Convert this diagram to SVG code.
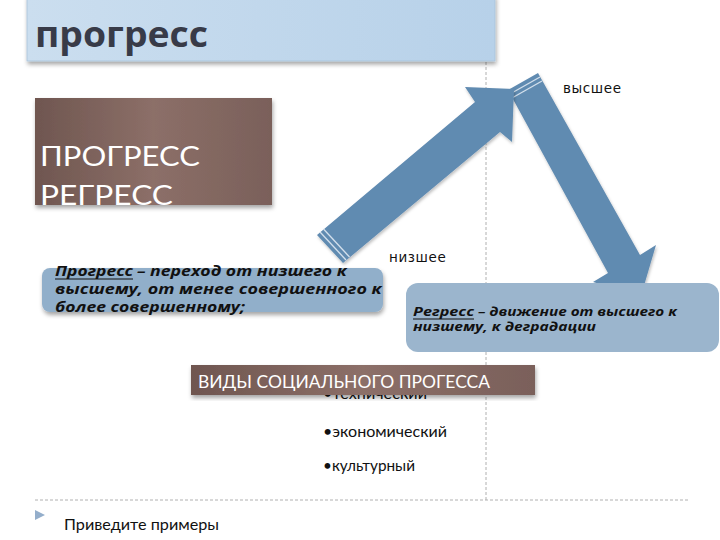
<svg xmlns="http://www.w3.org/2000/svg" width="720" height="540" viewBox="0 0 720 540">
<defs>
<style>
.gs{font-family:Lato,"Open Sans","Liberation Sans",sans-serif}
.bi{font-family:"Open Sans","Liberation Sans",sans-serif;font-weight:bold;font-style:italic;fill:#111}
.dv{font-family:"DejaVu Sans","Liberation Sans",sans-serif;font-size:13.5px;fill:#111;letter-spacing:0.6px}
.dash{stroke:#b0b0b0;stroke-width:1;stroke-dasharray:3,2;fill:none}
.arrow{fill:#618bb1}
.stripe{stroke:#d3e0ec;stroke-width:1.3}
.ul{stroke:#111;stroke-width:1.2}
</style>
<linearGradient id="gTitle" x1="0" y1="0" x2="1" y2="0">
<stop offset="0" stop-color="#cbdeef"/><stop offset="1" stop-color="#b7d1e9"/>
</linearGradient>
<linearGradient id="gBrown" x1="0" y1="0" x2="1" y2="0">
<stop offset="0" stop-color="#6f5650"/><stop offset="0.5" stop-color="#8c6f68"/><stop offset="1" stop-color="#7a605a"/>
</linearGradient>
<filter id="sh" x="-10%" y="-10%" width="120%" height="130%">
<feDropShadow dx="1" dy="3" stdDeviation="2" flood-color="#000" flood-opacity="0.35"/>
</filter>
<filter id="sh2" x="-10%" y="-10%" width="120%" height="130%">
<feDropShadow dx="1" dy="2" stdDeviation="1.5" flood-color="#000" flood-opacity="0.25"/>
</filter>
</defs>
<rect width="720" height="540" fill="#fff"/>

<g id="guides">
<line class="dash" x1="486" y1="62" x2="486" y2="500"/>
<line class="dash" x1="35" y1="500" x2="690" y2="500"/>
</g>

<g id="title">
<rect x="27" y="-5" width="468" height="66" fill="url(#gTitle)" stroke="#a9c2da" stroke-width="0.8" filter="url(#sh)"/>
<text x="35" y="47" font-family="'Open Sans','Liberation Sans',sans-serif" font-weight="bold" font-size="36" fill="#383b48" textLength="173" lengthAdjust="spacingAndGlyphs">прогресс</text>
</g>

<g id="brownbox">
<rect x="35" y="98" width="237" height="107" fill="url(#gBrown)" filter="url(#sh)"/>
<text class="gs" x="40" y="166" font-size="27" fill="#fff" textLength="160" lengthAdjust="spacingAndGlyphs">ПРОГРЕСС</text>
<text class="gs" x="40" y="205" font-size="27" fill="#fff" textLength="133" lengthAdjust="spacingAndGlyphs">РЕГРЕСС</text>
</g>

<g id="connectors">
<g id="arrow-down" filter="url(#sh2)">
<polygon class="arrow" points="508,90 538,73 640,255 656,245 641,296 593,282 608,273"/>
<line class="stripe" x1="510" y1="94" x2="540" y2="77"/>
<line class="stripe" x1="512" y1="98" x2="542" y2="81"/>
</g>
<g id="arrow-up" filter="url(#sh2)">
<polygon class="arrow" points="317,235 475,102 465,87 514,89 512,142 500,132 343,263"/>
<line class="stripe" x1="320" y1="232" x2="346" y2="260"/>
<line class="stripe" x1="323.5" y1="229" x2="349.5" y2="257"/>
</g>
</g>

<g id="labels">
<text class="dv" x="563" y="93">высшее</text>
<text class="dv" x="389" y="262">низшее</text>
</g>

<g id="progress">
<rect x="42" y="268" width="341" height="44" rx="8" fill="#91afca" filter="url(#sh)"/>
<text class="bi" font-size="15" x="55" y="276" textLength="78" lengthAdjust="spacingAndGlyphs">Прогресс</text>
<line class="ul" x1="55" y1="279" x2="133" y2="279"/>
<text class="bi" font-size="15" x="137" y="276" textLength="210" lengthAdjust="spacingAndGlyphs">– переход от низшего к</text>
<text class="bi" font-size="15" x="55" y="294" textLength="327" lengthAdjust="spacingAndGlyphs">высшему, от менее совершенного к</text>
<text class="bi" font-size="15" x="55" y="312" textLength="190" lengthAdjust="spacingAndGlyphs">более совершенному;</text>
</g>

<g id="regress">
<rect x="406" y="283" width="313" height="69" rx="12" fill="#9bb5cd"/>
<text class="bi" font-size="13" x="413" y="316" textLength="61" lengthAdjust="spacingAndGlyphs">Регресс</text>
<line class="ul" x1="413" y1="319" x2="474" y2="319"/>
<text class="bi" font-size="13" x="478" y="316" textLength="199" lengthAdjust="spacingAndGlyphs">– движение от высшего к</text>
<text class="bi" font-size="13" x="413" y="331" textLength="183" lengthAdjust="spacingAndGlyphs">низшему, к деградации</text>
</g>

<g id="types">
<text class="gs" x="323" y="399" font-size="15" fill="#111" textLength="104" lengthAdjust="spacingAndGlyphs">•технический</text>
<rect x="191" y="365" width="344" height="30" fill="url(#gBrown)" filter="url(#sh)"/>
<text class="gs" x="198" y="388" font-size="17" fill="#fff" textLength="292" lengthAdjust="spacingAndGlyphs">ВИДЫ СОЦИАЛЬНОГО ПРОГЕССА</text>
<text class="gs" x="323" y="437" font-size="15" fill="#111" textLength="124" lengthAdjust="spacingAndGlyphs">•экономический</text>
<text class="gs" x="323" y="471" font-size="15" fill="#111" textLength="92" lengthAdjust="spacingAndGlyphs">•культурный</text>
</g>

<g id="footer">
<polygon points="35,510 45,515 35,520" fill="#94aecb"/>
<text class="gs" x="64" y="530" font-size="15" fill="#111" textLength="155" lengthAdjust="spacingAndGlyphs">Приведите примеры</text>
</g>
</svg>
